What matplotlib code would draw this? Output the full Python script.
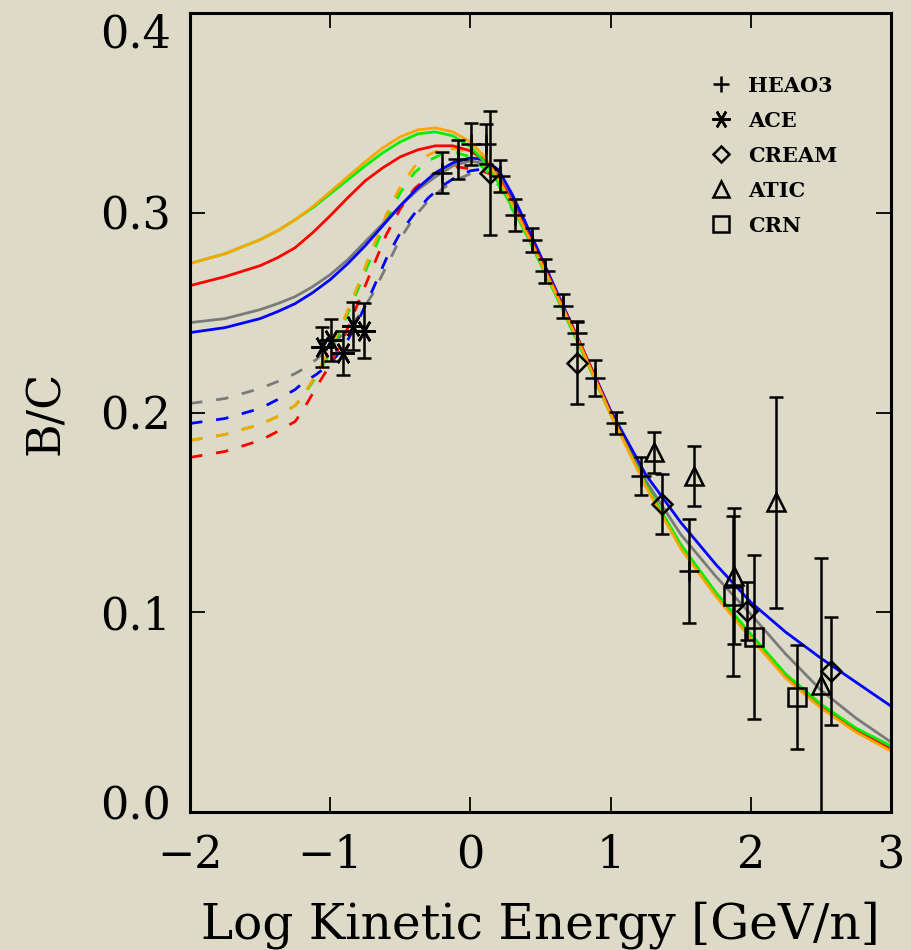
import matplotlib
matplotlib.use("Agg")
import matplotlib.pyplot as plt
from matplotlib.lines import Line2D
from matplotlib.transforms import ScaledTranslation

# model curves, solid = interstellar, dashed = modulated
x_solid = [-2.0, -1.75, -1.5, -1.375, -1.25, -1.125, -1.0, -0.875, -0.75, -0.625,
           -0.5, -0.375, -0.25, -0.125, 0.0, 0.1, 0.2, 0.3, 0.4, 0.6,
           0.8, 1.0, 1.25, 1.5, 1.75, 2.0, 2.25, 2.5, 2.75, 3.0]
orange_solid = [0.2746, 0.2795, 0.2865, 0.291, 0.2965, 0.303, 0.3105, 0.318, 0.3255, 0.3325,
                0.338, 0.3415, 0.3425, 0.3405, 0.3355, 0.328, 0.317, 0.304, 0.290, 0.261,
                0.231, 0.199, 0.163, 0.132, 0.108, 0.087, 0.067, 0.052, 0.040, 0.0305]
green_solid = [0.2746, 0.2795, 0.2865, 0.291, 0.2965, 0.3025, 0.3095, 0.3165, 0.3235, 0.330,
               0.3355, 0.3395, 0.3405, 0.3385, 0.333, 0.3255, 0.315, 0.3025, 0.289, 0.260,
               0.230, 0.199, 0.164, 0.134, 0.110, 0.089, 0.069, 0.054, 0.042, 0.033]
red_solid = [0.2635, 0.268, 0.2735, 0.2775, 0.2825, 0.290, 0.2985, 0.3075, 0.316, 0.3225,
             0.328, 0.3315, 0.3335, 0.3335, 0.331, 0.3265, 0.318, 0.305, 0.291, 0.262,
             0.232, 0.200, 0.164, 0.133, 0.109, 0.088, 0.068, 0.053, 0.041, 0.0315]
gray_solid = [0.245, 0.247, 0.2515, 0.2545, 0.258, 0.263, 0.269, 0.2765, 0.2855, 0.2945,
              0.3035, 0.3115, 0.318, 0.3235, 0.326, 0.3245, 0.3185, 0.306, 0.292, 0.262,
              0.231, 0.200, 0.166, 0.139, 0.118, 0.099, 0.079, 0.061, 0.047, 0.035]
blue_solid = [0.240, 0.2425, 0.247, 0.2505, 0.2545, 0.260, 0.2665, 0.2745, 0.2835, 0.2935,
              0.3035, 0.3125, 0.320, 0.325, 0.3275, 0.3265, 0.3215, 0.309, 0.294, 0.263,
              0.232, 0.201, 0.169, 0.145, 0.124, 0.105, 0.090, 0.077, 0.065, 0.053]

x_dash = [-2.0, -1.75, -1.5, -1.375, -1.25, -1.2, -1.1, -1.0, -0.9, -0.8,
          -0.7, -0.6, -0.5, -0.4, -0.3, -0.2, -0.1, 0.0, 0.1, 0.2, 0.4]
orange_dash = [0.186, 0.189, 0.194, 0.198, 0.2035, 0.208, 0.219, 0.232, 0.247, 0.264,
               0.282, 0.299, 0.313, 0.323, 0.329, 0.332, 0.332, 0.330, 0.325, 0.317, 0.290]
green_dash = [0.186, 0.189, 0.194, 0.198, 0.2035, 0.2075, 0.218, 0.230, 0.2455, 0.262,
              0.279, 0.296, 0.310, 0.320, 0.326, 0.3295, 0.330, 0.328, 0.322, 0.314, 0.289]
red_dash = [0.1775, 0.1805, 0.186, 0.1905, 0.1955, 0.2005, 0.2125, 0.224, 0.238, 0.255,
            0.272, 0.289, 0.302, 0.312, 0.318, 0.3215, 0.323, 0.322, 0.3205, 0.318, 0.291]
gray_dash = [0.2045, 0.207, 0.212, 0.2155, 0.2195, 0.2215, 0.2265, 0.233, 0.240, 0.248,
             0.259, 0.273, 0.287, 0.298, 0.306, 0.312, 0.3165, 0.3195, 0.3205, 0.3185, 0.292]
blue_dash = [0.1945, 0.197, 0.202, 0.2065, 0.2115, 0.2145, 0.219, 0.2245, 0.233, 0.246,
             0.261, 0.277, 0.290, 0.2995, 0.3075, 0.3135, 0.318, 0.321, 0.322, 0.3215, 0.294]

# measurements
heao_x = [-0.2, -0.09, 0.007, 0.114, 0.21, 0.32, 0.436, 0.535, 0.662, 0.762, 0.888, 1.036, 1.219, 1.56]
heao_y = [0.320, 0.3268, 0.3343, 0.3343, 0.3185, 0.299, 0.2863, 0.271, 0.2535, 0.240, 0.2173, 0.1947, 0.168, 0.1205]
heao_err = [0.0103, 0.0097, 0.0104, 0.010, 0.008, 0.008, 0.006, 0.006, 0.006, 0.0057, 0.009, 0.0056, 0.0095, 0.026]

ace_x = [-1.06, -0.995, -0.912, -0.838, -0.762]
ace_y = [0.2327, 0.2363, 0.2297, 0.2435, 0.241]
ace_err = [0.010, 0.0105, 0.011, 0.012, 0.0137]

cream_x = [0.138, 0.757, 1.369, 1.971, 2.571]
cream_y = [0.320, 0.2247, 0.1543, 0.1005, 0.0705]
cream_err = [0.031, 0.0204, 0.015, 0.0145, 0.027]

atic_x = [1.31, 1.595, 1.881, 2.183, 2.5]
atic_y = [0.180, 0.168, 0.118, 0.155, 0.0635]
atic_err = [0.0104, 0.015, 0.034, 0.053, 0.0635]

crn_x = [1.874, 2.02, 2.33]
crn_y = [0.108, 0.0875, 0.0577]
crn_err = [0.040, 0.041, 0.026]

bg = '#dddbc8'
serif = ['DejaVu Serif']
gray = '#7a7a7a'
green = '#00f000'

fig = plt.figure(figsize=(9.11, 9.5), dpi=100, facecolor=bg)
ax = fig.add_axes([190 / 911, 138 / 950, 701 / 911, 799 / 950])
ax.set_facecolor(bg)

lw = 2.0
dash = (4.5, 5)
for ys, c in [(gray_dash, gray), (blue_dash, 'blue'), (red_dash, 'red'),
              (green_dash, green), (orange_dash, 'orange')]:
    ax.plot(x_dash, ys, color=c, lw=lw, dashes=dash)
for ys, c in [(gray_solid, gray), (blue_solid, 'blue'), (red_solid, 'red'),
              (green_solid, green), (orange_solid, 'orange')]:
    ax.plot(x_solid, ys, color=c, lw=lw)

eb = dict(fmt='none', ecolor='black', elinewidth=1.8, capsize=5, capthick=1.8)
for xs, ys, es in [(heao_x, heao_y, heao_err), (ace_x, ace_y, ace_err), (cream_x, cream_y, cream_err),
                   (atic_x, atic_y, atic_err), (crn_x, crn_y, crn_err)]:
    ax.errorbar(xs, ys, yerr=es, **eb)

mk = dict(linestyle='none', color='black', markerfacecolor='none', markeredgewidth=1.8)
ax.plot(heao_x, heao_y, marker='+', markersize=14, **mk)
ax.plot(ace_x, ace_y, marker=(6, 2, 90), markersize=16, **mk)
ax.plot(cream_x, cream_y, marker='D', markersize=10, **mk)
ax.plot(atic_x, atic_y, marker='^', markersize=13, **mk)
ax.plot(crn_x, crn_y, marker='s', markersize=13, **mk)

handles = [Line2D([], [], marker='+', markersize=12, **mk),
           Line2D([], [], marker=(6, 2, 90), markersize=13, **mk),
           Line2D([], [], marker='D', markersize=8.5, **mk),
           Line2D([], [], marker='^', markersize=12, **mk),
           Line2D([], [], marker='s', markersize=11, **mk)]
ax.legend(handles, ['HEAO3', 'ACE', 'CREAM', 'ATIC', 'CRN'], loc='upper left',
          bbox_to_anchor=(0.716, 0.945), frameon=False, handlelength=1.0,
          handletextpad=0.8, labelspacing=0.72,
          prop={'family': serif, 'weight': 'bold', 'size': 15})

ax.set_xlim(-2, 3)
ax.set_ylim(0, 0.4)
ax.set_xticks([-2, -1, 0, 1, 2, 3])
ax.set_xticklabels(['\u22122', '\u22121', '0', '1', '2', '3'])
ax.set_yticks([0.0, 0.1, 0.2, 0.3, 0.4])
ax.set_yticklabels(['0.0', '0.1', '0.2', '0.3', '0.4'])
ax.tick_params(direction='in', length=11, width=1.3, top=True, right=True)
ax.tick_params(axis='x', pad=16, labelsize=32)
ax.tick_params(axis='y', pad=14, labelsize=32)
for lab in ax.get_xticklabels() + ax.get_yticklabels():
    lab.set_family(serif)
for s in ax.spines.values():
    s.set_linewidth(2.2)

# nudge the end labels inside the frame height
ylabs = ax.get_yticklabels()
ylabs[0].set_transform(ylabs[0].get_transform() + ScaledTranslation(0, 0.10, fig.dpi_scale_trans))
ylabs[-1].set_transform(ylabs[-1].get_transform() + ScaledTranslation(0, -0.17, fig.dpi_scale_trans))

ax.set_xlabel('Log Kinetic Energy [GeV/n]', family=serif, fontsize=35, labelpad=17)
ax.set_ylabel('B/C', family=serif, fontsize=33, labelpad=22)

fig.savefig('out.png', dpi=100, facecolor=bg)
